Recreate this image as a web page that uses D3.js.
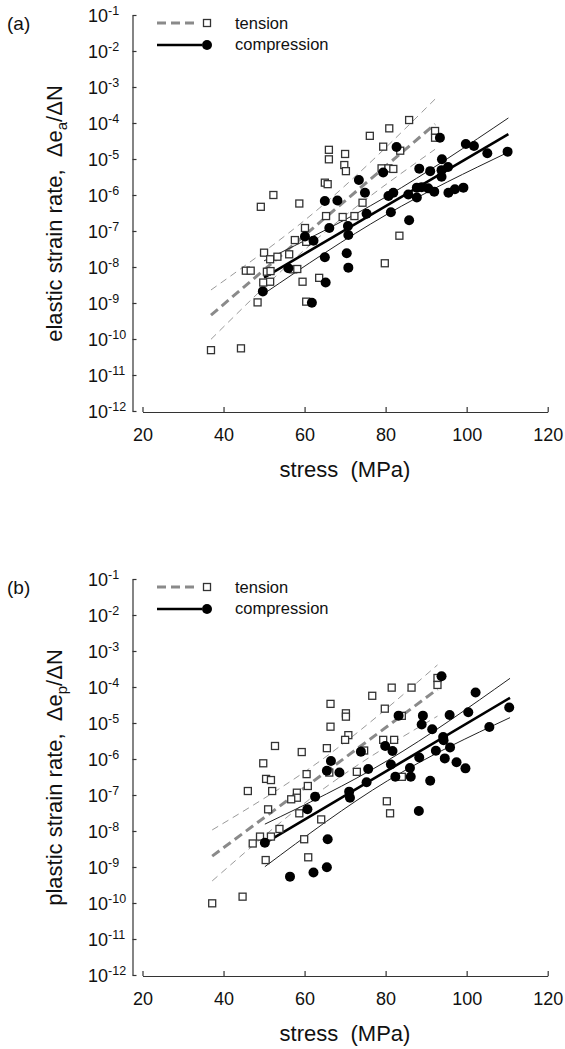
<!DOCTYPE html>
<html>
<head>
<meta charset="utf-8">
<script src="https://cdn.jsdelivr.net/npm/d3@7/dist/d3.min.js"></script>
<style>
  html, body { margin: 0; padding: 0; background: #fff; }
  svg { display: block; font-family: "Liberation Sans", Arial, sans-serif; }
</style>
</head>
<body>
<div id="chart"></div>
<script>
// axis values
const STRESS_TICKS = [20, 40, 60, 80, 100, 120];
const RATE_EXPONENTS = [-1, -2, -3, -4, -5, -6, -7, -8, -9, -10, -11, -12];

// (a) elastic strain rate  [stress MPa, rate]
const A_TENSION = [
  [49.2, 4.7e-7], [52.3, 1.0e-6], [58.7, 5.8e-7], [66.0, 1.8e-5], [66.0, 9.8e-6],
  [70.0, 1.38e-5], [69.8, 6.8e-6], [70.2, 4.6e-6], [65.0, 2.2e-6], [65.7, 2.0e-6],
  [76.1, 4.4e-5], [80.9, 7.1e-5], [85.8, 1.21e-4], [79.4, 2.2e-5], [83.6, 1.7e-5],
  [79.0, 5.5e-6], [80.7, 5.5e-6], [81.9, 5.3e-6], [92.2, 6.0e-5], [92.2, 3.9e-5],
  [74.3, 6.1e-7], [65.3, 2.6e-7], [69.4, 2.45e-7], [72.3, 2.6e-7], [60.1, 1.21e-7],
  [57.6, 5.6e-8], [60.4, 5.0e-8], [50.0, 2.5e-8], [51.5, 1.64e-8], [53.3, 1.93e-8],
  [56.2, 2.25e-8], [45.5, 7.9e-9], [46.7, 7.9e-9], [50.7, 7.4e-9], [51.6, 7.7e-9],
  [57.2, 8.6e-9], [58.2, 8.8e-9], [49.8, 3.7e-9], [51.5, 3.9e-9], [59.5, 3.9e-9],
  [63.6, 5.0e-9], [48.4, 1.04e-9], [60.4, 1.09e-9], [36.9, 4.9e-11], [44.3, 5.5e-11],
  [79.8, 1.27e-8], [83.4, 7.4e-8]
];
const A_COMPRESSION = [
  [82.7, 2.15e-5], [93.4, 3.9e-5], [99.8, 2.6e-5], [101.8, 2.3e-5], [105.1, 1.44e-5],
  [110.1, 1.6e-5], [93.9, 9.8e-6], [88.3, 5.4e-6], [91.0, 4.6e-6], [95.4, 6.0e-6],
  [93.8, 4.9e-6], [93.8, 3.2e-6], [79.4, 4.2e-6], [73.4, 2.6e-6], [74.9, 1.16e-6],
  [65.0, 6.8e-7], [68.1, 7.0e-7], [80.7, 9.4e-7], [81.9, 1.16e-6], [85.6, 1.03e-6],
  [87.7, 8.5e-7], [87.7, 1.6e-6], [88.9, 1.64e-6], [90.5, 1.53e-6], [92.0, 1.24e-6],
  [95.5, 1.16e-6], [97.1, 1.44e-6], [99.2, 1.6e-6], [75.3, 3.0e-7], [81.3, 3.3e-7],
  [85.8, 2.0e-7], [66.1, 1.21e-7], [70.7, 1.38e-7], [70.8, 7.7e-8], [60.1, 7.0e-8],
  [62.2, 5.4e-8], [56.0, 9.2e-9], [65.0, 1.86e-8], [70.4, 2.4e-8], [70.8, 9.6e-9],
  [65.2, 3.7e-9], [49.7, 2.1e-9], [61.8, 1.02e-9]
];
const A_TENSION_FIT = [[36.9, 4.6e-10], [92.2, 9.3e-5]];
const A_TENSION_UPPER = [[36.9, 2.3e-9], [64.5, 5.2e-7], [92.2, 4.6e-4]];
const A_TENSION_LOWER = [[36.9, 9.8e-11], [64.5, 8.3e-8], [92.2, 1.86e-5]];
const A_COMPRESSION_FIT = [[50.0, 5.1e-9], [110.3, 4.9e-5]];
const A_COMPRESSION_UPPER = [[50.0, 1.48e-8], [80.1, 8.9e-7], [110.3, 1.38e-4]];
const A_COMPRESSION_LOWER = [[50.0, 1.82e-9], [80.1, 2.8e-7], [110.3, 1.55e-5]];

// (b) plastic strain rate
const B_TENSION = [
  [52.7, 2.3e-6], [59.3, 1.56e-6], [65.5, 2.0e-6], [66.4, 3.4e-5], [66.4, 7.9e-6],
  [70.2, 1.86e-5], [70.2, 1.5e-5], [70.8, 4.6e-6], [70.0, 3.4e-6], [76.7, 5.7e-5],
  [81.5, 9.6e-5], [86.4, 9.6e-5], [79.8, 2.5e-5], [84.0, 1.58e-5], [79.4, 3.4e-6],
  [82.1, 3.4e-6], [92.8, 1.78e-4], [92.8, 1.14e-4], [74.7, 1.72e-6], [49.8, 7.6e-7],
  [50.5, 2.8e-7], [51.7, 2.6e-7], [46.0, 1.29e-7], [52.0, 1.29e-7], [51.0, 4.0e-8],
  [58.1, 1.16e-7], [58.1, 8.4e-8], [56.7, 7.6e-8], [60.5, 3.8e-7], [60.8, 1.78e-7],
  [58.7, 3.1e-8], [64.1, 2.1e-8], [66.1, 4.2e-7], [72.9, 4.4e-7], [84.0, 3.2e-7],
  [80.3, 6.7e-8], [81.1, 3.1e-8], [49.0, 7.0e-9], [47.2, 4.5e-9], [51.7, 7.0e-9],
  [53.8, 1.14e-8], [59.9, 5.9e-9], [50.4, 1.56e-9], [60.9, 1.86e-9], [37.2, 9.8e-11],
  [44.7, 1.5e-10]
];
const B_COMPRESSION = [
  [93.8, 2.0e-4], [102.2, 7.0e-5], [83.2, 1.6e-5], [89.2, 1.6e-5], [88.9, 9.1e-6],
  [95.8, 1.67e-5], [100.4, 2.0e-5], [91.5, 6.7e-6], [94.2, 4.1e-6], [94.3, 3.3e-6],
  [105.6, 7.7e-6], [110.5, 2.7e-5], [73.9, 1.6e-6], [79.9, 2.3e-6], [81.7, 1.67e-6],
  [92.4, 1.69e-6], [95.9, 2.1e-6], [94.6, 1.04e-6], [88.3, 1.1e-6], [81.3, 7.0e-7],
  [97.5, 8.1e-7], [99.7, 5.5e-7], [86.0, 5.6e-7], [82.4, 3.2e-7], [86.2, 3.2e-7],
  [91.0, 2.5e-7], [88.2, 3.6e-8], [66.5, 8.8e-7], [65.5, 4.7e-7], [68.6, 4.2e-7],
  [75.7, 5.3e-7], [75.3, 2.25e-7], [71.0, 1.24e-7], [71.2, 8.4e-8], [62.6, 9.0e-8],
  [60.7, 4.0e-8], [50.2, 4.7e-9], [65.7, 5.9e-9], [56.4, 5.4e-10], [62.2, 7.0e-10],
  [65.5, 9.8e-10]
];
const B_TENSION_FIT = [[37.2, 2.0e-9], [92.8, 8.7e-5]];
const B_TENSION_UPPER = [[37.2, 1.07e-8], [65.0, 1.1e-6], [92.8, 4.1e-4]];
const B_TENSION_LOWER = [[37.2, 4.1e-10], [65.0, 1.58e-7], [92.8, 1.55e-5]];
const B_COMPRESSION_FIT = [[50.2, 4.6e-9], [110.7, 5.0e-5]];
const B_COMPRESSION_UPPER = [[50.2, 1.55e-8], [80.5, 9.1e-7], [110.7, 1.74e-4]];
const B_COMPRESSION_LOWER = [[50.2, 1.02e-9], [80.5, 2.5e-7], [110.7, 1.41e-5]];

const LEGEND = ['tension', 'compression'];

const W = 565, H = 1049;
const svg = d3.select('#chart').append('svg')
  .attr('width', W).attr('height', H)
  .style('background', '#fff');

const x = d3.scaleLinear().domain([20, 120]).range([142.5, 547.7]);
const y = d3.scaleLog().domain([1e-12, 1e-1]).range([411, 15]);
const AXIS = '#333';

function drawPanel(offsetY, tag, titleWord, sub, sets) {
  const g = svg.append('g').attr('transform', `translate(0,${offsetY})`);

  // panel tag
  g.append('text').attr('x', 7).attr('y', 30)
    .attr('font-size', 19).attr('fill', '#111').text(tag);

  // y axis (ticks point inward)
  const yAxis = g.append('g').attr('transform', 'translate(132.5,0)')
    .call(d3.axisLeft(y)
      .tickValues(RATE_EXPONENTS.map(e => Math.pow(10, e)))
      .tickSizeInner(-4).tickSizeOuter(0).tickFormat(''));
  yAxis.select('.domain').attr('stroke', AXIS).attr('stroke-width', 1.2);
  yAxis.selectAll('.tick line').attr('stroke', AXIS).attr('stroke-width', 1.2);

  const yl = g.append('g');
  RATE_EXPONENTS.forEach(e => {
    const t = yl.append('text')
      .attr('x', 88).attr('y', y(Math.pow(10, e)) + 6.5)
      .attr('font-size', 18).attr('fill', '#111');
    t.append('tspan').text('10');
    t.append('tspan').attr('font-size', 12.5).attr('dy', -7).text(String(e));
  });

  // x axis (ticks point inward)
  const xAxis = g.append('g').attr('transform', 'translate(0,412)')
    .call(d3.axisBottom(x).tickValues(STRESS_TICKS)
      .tickSizeInner(-5).tickSizeOuter(0));
  xAxis.select('.domain').attr('stroke', AXIS).attr('stroke-width', 1.2);
  xAxis.selectAll('.tick line').attr('stroke', AXIS).attr('stroke-width', 1.2);
  xAxis.selectAll('.tick text')
    .attr('y', 29).attr('dy', null)
    .attr('font-size', 18).attr('fill', '#111')
    .attr('font-family', '"Liberation Sans", Arial, sans-serif');

  g.append('text')
    .attr('x', 345).attr('y', 477)
    .attr('text-anchor', 'middle')
    .attr('font-size', 22).attr('fill', '#111')
    .attr('xml:space', 'preserve')
    .text('stress  (MPa)');

  // y title
  const yt = g.append('text')
    .attr('transform', 'translate(62,213.5) rotate(-90)')
    .attr('text-anchor', 'middle')
    .attr('font-size', 22).attr('fill', '#111')
    .attr('xml:space', 'preserve');
  yt.append('tspan').text(titleWord + ' strain rate,  \u0394e');
  yt.append('tspan').attr('font-size', 15).attr('dy', 5).text(sub);
  yt.append('tspan').attr('dy', -5).text('/\u0394N');

  // regression lines and confidence bands
  const straight = d3.line().x(d => x(d[0])).y(d => y(d[1]));
  const curved = d3.line().x(d => x(d[0])).y(d => y(d[1])).curve(d3.curveNatural);

  [sets.tUpper, sets.tLower].forEach(b => {
    g.append('path').datum(b).attr('d', curved)
      .attr('fill', 'none').attr('stroke', '#9a9a9a')
      .attr('stroke-width', 1).attr('stroke-dasharray', '7,5');
  });
  g.append('path').datum(sets.tFit).attr('d', straight)
    .attr('fill', 'none').attr('stroke', '#8a8a8a')
    .attr('stroke-width', 3).attr('stroke-dasharray', '9,5');

  [sets.cUpper, sets.cLower].forEach(b => {
    g.append('path').datum(b).attr('d', curved)
      .attr('fill', 'none').attr('stroke', '#222').attr('stroke-width', 1);
  });
  g.append('path').datum(sets.cFit).attr('d', straight)
    .attr('fill', 'none').attr('stroke', '#000').attr('stroke-width', 2.6);

  // tension squares
  g.selectAll('.sq').data(sets.tension).enter().append('rect')
    .attr('class', 'sq')
    .attr('x', d => x(d[0]) - 3.5).attr('y', d => y(d[1]) - 3.5)
    .attr('width', 7).attr('height', 7)
    .attr('fill', '#fff').attr('stroke', '#333').attr('stroke-width', 1.3);

  // compression dots
  g.selectAll('.dot').data(sets.compression).enter().append('circle')
    .attr('class', 'dot')
    .attr('cx', d => x(d[0])).attr('cy', d => y(d[1]))
    .attr('r', 5).attr('fill', '#000');

  // legend
  const lg = g.append('g');
  lg.append('line').attr('x1', 157).attr('x2', 198).attr('y1', 23).attr('y2', 23)
    .attr('stroke', '#8a8a8a').attr('stroke-width', 3).attr('stroke-dasharray', '9,5');
  lg.append('rect').attr('x', 203.5).attr('y', 19.5).attr('width', 7).attr('height', 7)
    .attr('fill', '#fff').attr('stroke', '#333').attr('stroke-width', 1.3);
  lg.append('line').attr('x1', 157).attr('x2', 202).attr('y1', 45).attr('y2', 45)
    .attr('stroke', '#000').attr('stroke-width', 2.6);
  lg.append('circle').attr('cx', 207).attr('cy', 45).attr('r', 5).attr('fill', '#000');
  lg.selectAll('.lt').data(LEGEND).enter().append('text')
    .attr('x', 235).attr('y', (d, i) => 29 + i * 21)
    .attr('font-size', 16.5).attr('fill', '#111')
    .text(d => d);
}

drawPanel(0, '(a)', 'elastic', 'a', {
  tension: A_TENSION, compression: A_COMPRESSION,
  tFit: A_TENSION_FIT, tUpper: A_TENSION_UPPER, tLower: A_TENSION_LOWER,
  cFit: A_COMPRESSION_FIT, cUpper: A_COMPRESSION_UPPER, cLower: A_COMPRESSION_LOWER
});
drawPanel(564, '(b)', 'plastic', 'p', {
  tension: B_TENSION, compression: B_COMPRESSION,
  tFit: B_TENSION_FIT, tUpper: B_TENSION_UPPER, tLower: B_TENSION_LOWER,
  cFit: B_COMPRESSION_FIT, cUpper: B_COMPRESSION_UPPER, cLower: B_COMPRESSION_LOWER
});
</script>
</body>
</html>
